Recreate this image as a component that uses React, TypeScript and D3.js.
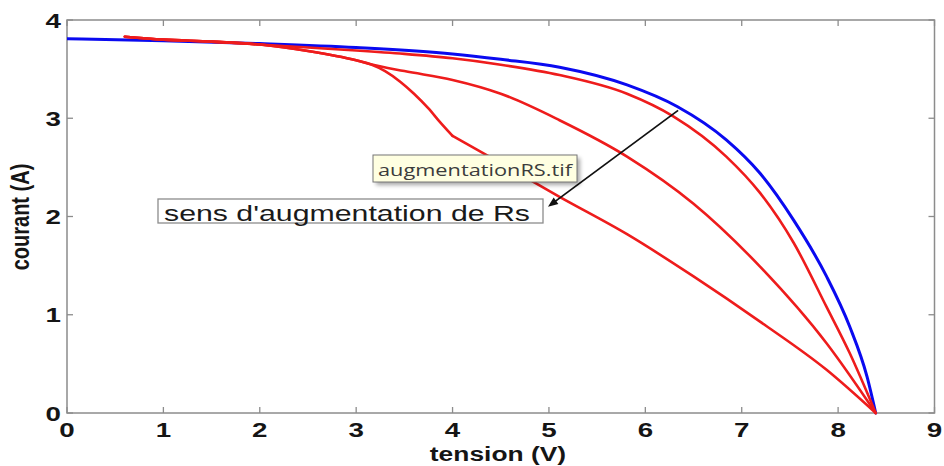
import React from "react";
import * as d3 from "d3";

// ---- data (V, A) ----
const blueV = [0, 1, 2, 3, 4, 4.5, 5.11, 5.81, 6.33, 6.84, 7.19, 7.54, 7.88, 8.12, 8.3, 8.39];
const blueI = [3.81, 3.79, 3.76, 3.72, 3.655, 3.6, 3.52, 3.34, 3.12, 2.78, 2.44, 1.96, 1.39, 0.88, 0.37, 0];

const red1V = [0.6, 1, 1.5, 2, 2.5, 3, 3.5, 4, 4.5, 5.11, 5.81, 6.29, 6.84, 7.19, 7.54, 7.88, 8.12, 8.39];
const red1I = [3.83, 3.8, 3.78, 3.75, 3.72, 3.69, 3.655, 3.61, 3.545, 3.44, 3.25, 3.02, 2.61, 2.24, 1.73, 1.08, 0.61, 0];

const red2V = [0.6, 1, 1.5, 2, 2.5, 3, 3.15, 3.5, 4, 4.5, 5.11, 5.81, 6.5, 7.19, 7.88, 8.39];
const red2I = [3.83, 3.8, 3.78, 3.75, 3.685, 3.59, 3.55, 3.48, 3.39, 3.25, 2.98, 2.61, 2.13, 1.49, 0.71, 0];

const red3V = [0.6, 1, 1.5, 2, 2.5, 3, 3.15, 3.3, 3.46, 3.6, 3.75, 3.87, 4.0, 4.4, 5.11, 5.81, 6.5, 7.19, 7.88, 8.39];
const red3I = [3.83, 3.8, 3.78, 3.75, 3.685, 3.59, 3.55, 3.48, 3.37, 3.25, 3.1, 2.96, 2.82, 2.6, 2.2, 1.82, 1.39, 0.93, 0.44, 0];
const red3KinkV = 4.0;

const xTicks = [0, 1, 2, 3, 4, 5, 6, 7, 8, 9];
const yTicks = [0, 1, 2, 3, 4];

const xLabel = "tension (V)";
const yLabel = "courant (A)";
const annotText = "sens d'augmentation de Rs";
const tooltipText = "augmentationRS.tif";
// arrow in data units: from -> to
const arrowFrom = [6.34, 3.08];
const arrowTo = [4.99, 2.1];

const W = 944, H = 466;
const L = 67, R = 934.5, T = 20, B = 413;
const SX = 1.32; // horizontal stretch of the source image text

export default function App() {
  const x = d3.scaleLinear().domain([0, 9]).range([L, R]);
  const y = d3.scaleLinear().domain([0, 4]).range([B, T]);
  const smooth = d3.line<[number, number]>().x(d => x(d[0])).y(d => y(d[1])).curve(d3.curveMonotoneX);
  const zip = (a: number[], b: number[]) => a.map((v, i) => [v, b[i]] as [number, number]);

  const red3 = zip(red3V, red3I);
  const k = red3V.indexOf(red3KinkV);
  const red3a = red3.slice(0, k + 1);
  const red3b = red3.slice(k);

  const font = "'Liberation Sans', Arial, sans-serif";
  const ax = x(arrowFrom[0]), ay = y(arrowFrom[1]);
  const bx = x(arrowTo[0]), by = y(arrowTo[1]);
  const ang = Math.atan2(by - ay, bx - ax);
  const hl = 10, hw = 4;
  const head = [
    [bx, by],
    [bx - hl * Math.cos(ang) + hw * Math.sin(ang), by - hl * Math.sin(ang) - hw * Math.cos(ang)],
    [bx - hl * Math.cos(ang) - hw * Math.sin(ang), by - hl * Math.sin(ang) + hw * Math.cos(ang)],
  ].map(p => p.join(",")).join(" ");

  const red = "#ee1c1c";

  return (
    <svg width={W} height={H} style={{ position: "absolute", left: 0, top: 0, background: "#fff" }}>
      <defs>
        <filter id="sh" x="-10%" y="-20%" width="130%" height="160%">
          <feGaussianBlur stdDeviation="2" />
        </filter>
        <clipPath id="plot">
          <rect x={L} y={T} width={R - L} height={B - T + 3} />
        </clipPath>
      </defs>
      <rect x={0} y={0} width={W} height={H} fill="#fff" />
      {/* frame */}
      <rect x={L} y={T} width={R - L} height={B - T} fill="none" stroke="#8c8c8c" strokeWidth={1.5} />
      {xTicks.map(t => (
        <g key={"xt" + t}>
          <line x1={x(t)} x2={x(t)} y1={B} y2={B - 6} stroke="#8c8c8c" strokeWidth={1.3} />
          <line x1={x(t)} x2={x(t)} y1={T} y2={T + 6} stroke="#8c8c8c" strokeWidth={1.3} />
          <text transform={`translate(${x(t)},437) scale(${SX},1)`} textAnchor="middle" fontFamily={font}
            fontWeight="bold" fontSize={21} fill="#151515">{t}</text>
        </g>
      ))}
      {yTicks.map(t => (
        <g key={"yt" + t}>
          <line x1={L} x2={L + 6} y1={y(t)} y2={y(t)} stroke="#8c8c8c" strokeWidth={1.3} />
          <line x1={R} x2={R - 6} y1={y(t)} y2={y(t)} stroke="#8c8c8c" strokeWidth={1.3} />
          <text transform={`translate(61,${y(t) + 7.5}) scale(${SX},1)`} textAnchor="end" fontFamily={font}
            fontWeight="bold" fontSize={21} fill="#151515">{t}</text>
        </g>
      ))}
      <text transform={`translate(498,461) scale(${SX},1)`} textAnchor="middle" fontFamily={font}
        fontWeight="bold" fontSize={20} fill="#151515">{xLabel}</text>
      <text transform={`translate(29,217) scale(${SX},1) rotate(-90)`} textAnchor="middle" fontFamily={font}
        fontWeight="bold" fontSize={20} fill="#151515">{yLabel}</text>

      {/* curves */}
      <g clipPath="url(#plot)" fill="none" strokeLinejoin="round" strokeLinecap="round">
        <path d={smooth(zip(blueV, blueI)) || ""} stroke="#0a0af0" strokeWidth={3} />
        <path d={smooth(zip(red1V, red1I)) || ""} stroke={red} strokeWidth={2.6} />
        <path d={smooth(zip(red2V, red2I)) || ""} stroke={red} strokeWidth={2.6} />
        <path d={smooth(red3a) || ""} stroke={red} strokeWidth={2.6} />
        <path d={smooth(red3b) || ""} stroke={red} strokeWidth={2.6} />
      </g>

      {/* annotation box */}
      <rect x={158} y={199} width={385} height={24} fill="#fff" stroke="#8c8c8c" strokeWidth={1.3} />
      <text x={164} y={221} textLength={366} lengthAdjust="spacingAndGlyphs" fontFamily={font}
        fontSize={22} fill="#1a1a1a">{annotText}</text>

      {/* arrow */}
      <line x1={ax} y1={ay} x2={bx - 6 * Math.cos(ang)} y2={by - 6 * Math.sin(ang)} stroke="#111" strokeWidth={1.8} />
      <polygon points={head} fill="#111" />

      {/* tooltip */}
      <rect x={376} y={158} width={204} height={27} fill="#000" opacity={0.35} filter="url(#sh)" />
      <rect x={373} y={155} width={204} height={27} fill="#ffffe1" stroke="#767676" strokeWidth={1} />
      <text x={378} y={176} textLength={194} lengthAdjust="spacingAndGlyphs"
        fontFamily="'Open Sans', 'Noto Sans', sans-serif" fontSize={16.5} fill="#3c3c3c">{tooltipText}</text>
    </svg>
  );
}
